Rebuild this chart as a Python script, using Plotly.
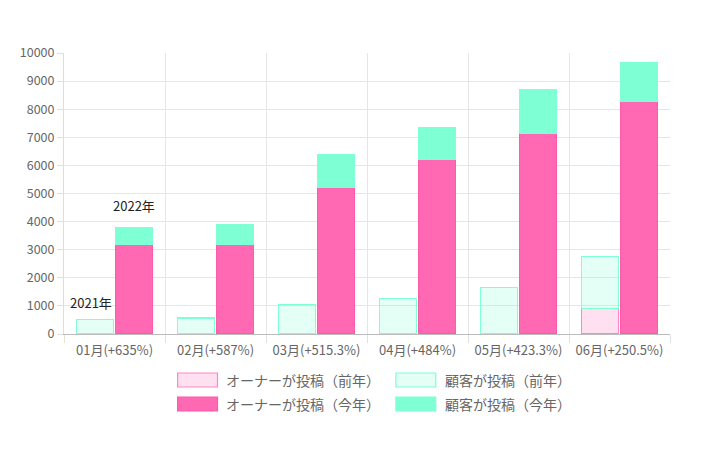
import plotly.graph_objects as go

# data
months = ["01月(+635%)", "02月(+587%)", "03月(+515.3%)", "04月(+484%)", "05月(+423.3%)", "06月(+250.5%)"]
owner_prev = [0, 0, 0, 0, 0, 910]
customer_prev = [517, 568, 1037, 1258, 1659, 1849]
owner_now = [3180, 3180, 5210, 6230, 7140, 8290]
customer_now = [620, 720, 1170, 1120, 1540, 1380]

names = ["オーナーが投稿（前年）", "顧客が投稿（前年）", "オーナーが投稿（今年）", "顧客が投稿（今年）"]
fills = ["#FFE0F0", "rgba(127,255,212,0.22)", "#FF69B4", "#7FFFD4"]
lines = ["#FF88C4", "#7FFFD4", "#FF5AAA", "#7FFFD4"]

FONT = "Noto Sans CJK JP, Noto Sans, sans-serif"

fig = go.Figure()
series = [(owner_prev, "prev"), (customer_prev, "prev"), (owner_now, "now"), (customer_now, "now")]
for i, (vals, grp) in enumerate(series):
    fig.add_trace(go.Bar(
        x=months, y=vals, name=names[i], offsetgroup=grp,
        marker=dict(color=fills[i], line=dict(color=lines[i], width=1.2)),
        showlegend=False,
    ))

# plot area in page pixels: x 62..670, y 53..334 (page has 8px body margin)
L, R, T, B = 62, 670, 53, 334
OFF = 8
def px(x):
    return (x - L) / (R - L)
def py(y):
    return (B - y) / (B - T)

# custom legend with wide boxes
shapes = []
annotations = []
legend_pos = [(176, 380), (395, 380), (176, 404), (395, 404)]
for i, (lx, ly) in enumerate(legend_pos):
    shapes.append(dict(type="rect", xref="paper", yref="paper",
                       x0=px(lx), x1=px(lx + 40), y0=py(ly - 7), y1=py(ly + 7),
                       fillcolor=fills[i], line=dict(color=lines[i], width=1.2)))
    annotations.append(dict(xref="paper", yref="paper", x=px(lx + 47), y=py(ly),
                            text=names[i], showarrow=False, xanchor="left", yanchor="middle",
                            font=dict(size=14, color="#666666", family=FONT)))

# year labels above first month's bars
annotations.append(dict(x=months[0], y=customer_prev[0], text="2021年", showarrow=False,
                        xshift=-24, yshift=5, yanchor="bottom",
                        font=dict(size=13, color="#222222", family=FONT)))
annotations.append(dict(x=months[0], y=owner_now[0] + customer_now[0], text="2022年", showarrow=False,
                        xshift=19, yshift=10, yanchor="bottom",
                        font=dict(size=13, color="#222222", family=FONT)))

fig.update_layout(
    width=710, height=460,
    margin=dict(l=L - OFF, r=710 - R + OFF, t=T - OFF, b=460 - B + OFF),
    plot_bgcolor="white", paper_bgcolor="white",
    barmode="stack", bargap=0.22, bargroupgap=0.07,
    font=dict(family=FONT, color="#666666", size=12),
    shapes=shapes, annotations=annotations,
    showlegend=False,
)
fig.update_xaxes(
    tickson="boundaries", showgrid=True, gridcolor="#e6e6e6",
    ticks="outside", ticklen=8, tickcolor="#e0e0e0",
    showline=True, linecolor="#bbbbbb", ticklabelstandoff=4,
    tickfont=dict(size=13, color="#666666"),
)
fig.update_yaxes(
    range=[0, 10000], dtick=1000, tickformat="d", gridcolor="#e6e6e6",
    ticks="outside", ticklen=6, tickcolor="#e0e0e0",
    showline=True, linecolor="#dddddd", zeroline=False,
    tickfont=dict(size=12.5, color="#666666"),
)

fig.write_html("out.html")
